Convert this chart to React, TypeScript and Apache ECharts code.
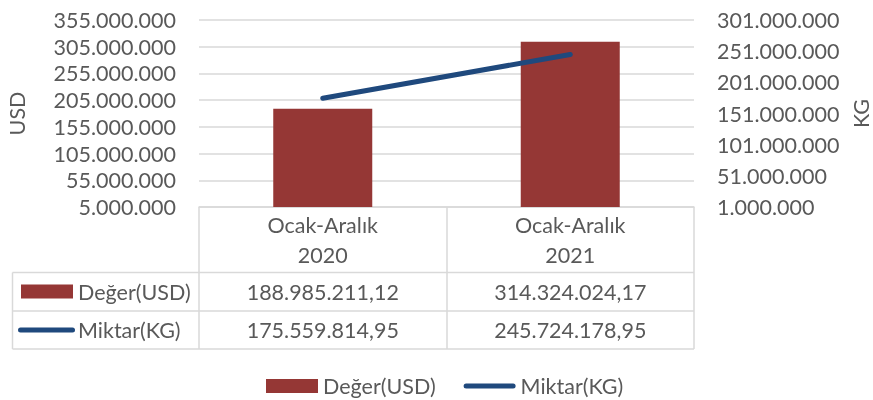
import React, { useEffect, useRef } from 'react';
import * as echarts from 'echarts';

const categories = ['Ocak-Aralık\n2020', 'Ocak-Aralık\n2021'];
const seriesNames = ['Değer(USD)', 'Miktar(KG)'];
const usdValues = [188985211.12, 314324024.17];
const kgValues = [175559814.95, 245724178.95];
const usdAxis = { min: 5000000, max: 355000000, interval: 50000000 };
const kgAxis = { min: 1000000, max: 301000000, interval: 50000000 };

const BAR_COLOR = '#953735';
const LINE_COLOR = '#1F497D';
const TEXT_COLOR = '#595959';
const GRID_COLOR = '#D9D9D9';
const FONT = 'Lato';
const FS = 21.5;
const W = 873;
const H = 400;

function fmtTR(v: number, dec: number): string {
  const fixed = v.toFixed(dec);
  const parts = fixed.split('.');
  const intStr = parts[0].replace(/\B(?=(\d{3})+(?!\d))/g, '.');
  return parts[1] ? intStr + ',' + parts[1] : intStr;
}

const LINE_ICON = 'path://M2.5,0 L49.5,0 A2.5,2.5 0 0 1 49.5,5 L2.5,5 A2.5,2.5 0 0 1 2.5,0 Z';

export default function App() {
  const ref = useRef<HTMLDivElement>(null);
  useEffect(() => {
    if (!ref.current) return;
    const chart = echarts.init(ref.current, null, { renderer: 'svg', width: W, height: H });
    const gridLeft = 199;
    const gridRight = 694;
    const gridTop = 20;
    const gridBottom = 207;
    const option: any = {
      animation: false,
      textStyle: { fontFamily: FONT, color: TEXT_COLOR },
      grid: {
        left: gridLeft,
        right: W - gridRight,
        top: gridTop,
        bottom: H - gridBottom,
        containLabel: false,
        outerBoundsMode: 'none',
      },
      legend: {
        left: 261,
        top: 370,
        itemWidth: 52,
        itemHeight: 14,
        itemGap: 28,
        textStyle: { fontFamily: FONT, fontSize: FS, color: TEXT_COLOR },
        data: [
          { name: seriesNames[0], icon: 'rect' },
          { name: seriesNames[1], icon: LINE_ICON, itemStyle: { color: LINE_COLOR } },
        ],
      },
      xAxis: {
        type: 'category',
        data: categories,
        boundaryGap: true,
        axisLine: { show: true, lineStyle: { color: GRID_COLOR, width: 1.5 } },
        axisTick: { show: true, length: 142, lineStyle: { color: GRID_COLOR, width: 1.5 } },
        axisLabel: { margin: 3, fontFamily: FONT, fontSize: FS, color: TEXT_COLOR, lineHeight: 30 },
      },
      yAxis: [
        {
          type: 'value',
          min: usdAxis.min,
          max: usdAxis.max,
          interval: usdAxis.interval,
          name: 'USD',
          nameLocation: 'middle',
          nameRotate: 90,
          nameGap: 171,
          nameTextStyle: { fontFamily: FONT, fontSize: FS, color: TEXT_COLOR },
          axisLine: { show: false },
          axisTick: { show: false },
          axisLabel: { margin: 23, fontFamily: FONT, fontSize: FS, color: TEXT_COLOR, formatter: (v: number) => fmtTR(v, 0) },
          splitLine: { show: true, lineStyle: { color: GRID_COLOR, width: 1.5 } },
        },
        {
          type: 'value',
          min: kgAxis.min,
          max: kgAxis.max,
          interval: kgAxis.interval,
          name: 'KG',
          nameLocation: 'middle',
          nameRotate: 90,
          nameGap: 154,
          nameTextStyle: { fontFamily: FONT, fontSize: FS, color: TEXT_COLOR },
          axisLine: { show: false },
          axisTick: { show: false },
          axisLabel: { margin: 23, fontFamily: FONT, fontSize: FS, color: TEXT_COLOR, formatter: (v: number) => fmtTR(v, 0) },
          splitLine: { show: false },
        },
      ],
      series: [
        {
          name: seriesNames[0],
          type: 'bar',
          yAxisIndex: 0,
          data: usdValues,
          barWidth: '40%',
          itemStyle: { color: BAR_COLOR },
        },
        {
          name: seriesNames[1],
          type: 'line',
          yAxisIndex: 1,
          data: kgValues,
          symbol: 'none',
          lineStyle: { color: LINE_COLOR, width: 5, cap: 'round' },
          itemStyle: { color: LINE_COLOR },
        },
      ],
    };
    chart.setOption(option);

    // Data table below the plot
    const rowTop = 272.5;
    const rowMid = 311;
    const rowBottom = 349;
    const tableLeft = 12.5;
    const xs = categories.map((_, i) => chart.convertToPixel({ xAxisIndex: 0 }, i) as number);
    const rowCenters = [291.5, 330];
    const rowValues = [usdValues, kgValues];
    const lineStyle = { stroke: GRID_COLOR, lineWidth: 1.5 };
    const graphic: any[] = [
      { type: 'line', shape: { x1: tableLeft, y1: rowTop, x2: gridRight, y2: rowTop }, style: lineStyle, silent: true },
      { type: 'line', shape: { x1: tableLeft, y1: rowMid, x2: gridRight, y2: rowMid }, style: lineStyle, silent: true },
      { type: 'line', shape: { x1: tableLeft, y1: rowBottom, x2: gridRight, y2: rowBottom }, style: lineStyle, silent: true },
      { type: 'line', shape: { x1: tableLeft, y1: rowTop, x2: tableLeft, y2: rowBottom }, style: lineStyle, silent: true },
      { type: 'rect', shape: { x: 21, y: rowCenters[0] - 7, width: 52, height: 14 }, style: { fill: BAR_COLOR }, silent: true },
      { type: 'line', shape: { x1: 20.5, y1: rowCenters[1], x2: 72.5, y2: rowCenters[1] }, style: { stroke: LINE_COLOR, lineWidth: 5, lineCap: 'round' }, silent: true },
    ];
    seriesNames.forEach((n, r) => {
      graphic.push({
        type: 'text',
        x: 78,
        y: rowCenters[r],
        style: { text: n, fontFamily: FONT, fontSize: FS, fill: TEXT_COLOR, textAlign: 'left', textVerticalAlign: 'middle' },
        silent: true,
      });
      rowValues[r].forEach((v, i) => {
        graphic.push({
          type: 'text',
          x: xs[i],
          y: rowCenters[r],
          style: { text: fmtTR(v, 2), fontFamily: FONT, fontSize: FS, fill: TEXT_COLOR, textAlign: 'center', textVerticalAlign: 'middle' },
          silent: true,
        });
      });
    });
    chart.setOption({ graphic });

    return () => chart.dispose();
  }, []);
  return <div ref={ref} style={{ position: 'fixed', left: 0, top: 0, width: W, height: H }} />;
}
